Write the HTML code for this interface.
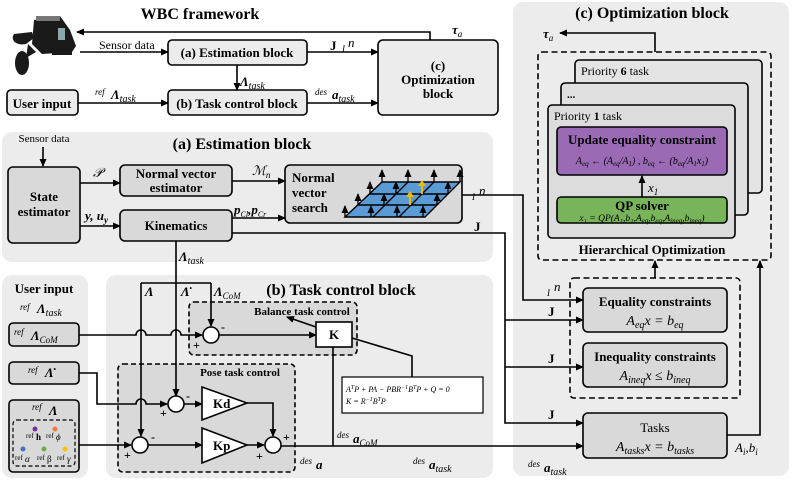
<!DOCTYPE html>
<html><head><meta charset="utf-8"><style>
html,body{margin:0;padding:0;background:#fff}
svg{display:block}
text{font-family:"Liberation Serif",serif;fill:#000}
.b{font-weight:bold}
.i{font-style:italic}
</style></head><body>
<svg width="793" height="480" viewBox="0 0 793 480" xmlns="http://www.w3.org/2000/svg">
<defs>
<marker id="a" markerWidth="8" markerHeight="8" refX="7" refY="4" orient="auto" markerUnits="userSpaceOnUse"><path d="M0,0.5 L8,4 L0,7.5z" fill="#000"/></marker>
</defs>
<g stroke="#000" stroke-width="1.6" fill="none">
<rect x="513" y="2" width="276" height="474" rx="10" fill="#ececec" stroke="none"/>
<rect x="2" y="132" width="491" height="130" rx="10" fill="#ececec" stroke="none"/>
<rect x="2" y="275" width="86" height="203" rx="10" fill="#ececec" stroke="none"/>
<rect x="106" y="275" width="387" height="203" rx="10" fill="#ececec" stroke="none"/>

<rect x="168" y="40" width="139" height="25" rx="4" fill="#ececec"/>
<rect x="168" y="90" width="139" height="25" rx="4" fill="#ececec"/>
<rect x="7" y="90" width="71" height="25" rx="4" fill="#ececec"/>
<rect x="378" y="40" width="120" height="75" rx="5" fill="#ececec"/>
<path d="M430,40 V32 H77" marker-end="url(#a)"/>
<path d="M80,52 H168" marker-end="url(#a)"/>
<path d="M307,52 H378" marker-end="url(#a)"/>
<path d="M237,65 V90" marker-end="url(#a)"/>
<path d="M78,103 H168" marker-end="url(#a)"/>
<path d="M307,103 H378" marker-end="url(#a)"/>

<path d="M43,147 V166" marker-end="url(#a)"/>
<rect x="8" y="167" width="72" height="76" rx="5" fill="#d9d9d9"/>
<rect x="120" y="165" width="112" height="31" rx="5" fill="#d9d9d9"/>
<rect x="120" y="210" width="112" height="31" rx="5" fill="#d9d9d9"/>
<rect x="285" y="165" width="177" height="58" rx="5" fill="#d9d9d9"/>
<path d="M80,183 H120" marker-end="url(#a)"/>
<path d="M80,226 H120" marker-end="url(#a)"/>
<path d="M232,181 H285" marker-end="url(#a)"/>
<path d="M232,218 H285" marker-end="url(#a)"/>
<path d="M462,195 H523 V300 H583" marker-end="url(#a)"/>
<path d="M232,233 H505 V423 H583" marker-end="url(#a)"/>
<path d="M505,320 H583" marker-end="url(#a)"/>
<path d="M505,367 H583" marker-end="url(#a)"/>

<path d="M382,182 H460 L425,217 H345 Z" fill="#5b9bd5" stroke-width="1.4"/>
<path d="M370,194 H448 M358,205 H437 M408,182 L373,217 M434,182 L399,217" stroke-width="1.4"/>
</g>
<g stroke="#000" stroke-width="1.3" marker-end="url(#a)" fill="none">
<path d="M382,182 V170"/><path d="M408,182 V170"/><path d="M434,182 V170"/><path d="M460,182 V170"/>
<path d="M370,194 V182"/><path d="M396,194 V182"/><path d="M448,194 V182"/>
<path d="M358,205 V194"/><path d="M384,205 V194"/><path d="M437,205 V194"/>
<path d="M345,217 V206"/><path d="M371,217 V206"/><path d="M397,217 V206"/><path d="M423,217 V206"/>
</g>
<g stroke="#f5b800" stroke-width="2" fill="none">
<path d="M422,194 V184"/><path d="M410,205 V195"/>
</g>
<path d="M418,186 L422,180 L426,186z M406,197 L410,191 L414,197z" fill="#f5b800"/>

<g stroke="#000" stroke-width="1.6" fill="none">
<rect x="9" y="323" width="70" height="23" rx="4" fill="#d9d9d9"/>
<rect x="9" y="362" width="70" height="22" rx="4" fill="#d9d9d9"/>
<rect x="9" y="400" width="70" height="72" rx="4" fill="#d9d9d9"/>
<rect x="13" y="420" width="62" height="46" rx="4" stroke-dasharray="4,2.5" stroke-width="1.2"/>

<rect x="189" y="302" width="168" height="53" rx="5" fill="#d9d9d9" stroke-dasharray="5,3"/>
<rect x="118" y="364" width="177" height="108" rx="5" fill="#d9d9d9" stroke-dasharray="5,3"/>
<rect x="316" y="322" width="36" height="25" fill="#fff"/>
<rect x="342" y="377" width="141" height="36" fill="#fff" stroke-width="1.2"/>
<path d="M176,241 V283"/>
<path d="M141,283 H211"/>
<path d="M141,283 V436" marker-end="url(#a)"/>
<path d="M176,283 V396" marker-end="url(#a)"/>
<path d="M211,283 V326" marker-end="url(#a)"/>
<path d="M79,335 H136 a5,5 0 0 1 10,0 H171 a5,5 0 0 1 10,0 H202" marker-end="url(#a)"/>
<path d="M219,335 H316" marker-end="url(#a)"/>
<path d="M316,327 L287,317" marker-end="url(#a)"/>
<path d="M352,338 L412,356 V377"/>
<path d="M333,347 V446"/>
<path d="M79,373 H97 V404 H136 a5,5 0 0 1 10,0 H167" marker-end="url(#a)"/>
<path d="M184,404 H202" marker-end="url(#a)"/>
<path d="M79,445 H131" marker-end="url(#a)"/>
<path d="M148,445 H202" marker-end="url(#a)"/>
<path d="M247,445 H264" marker-end="url(#a)"/>
<path d="M247,403 H273 V436" marker-end="url(#a)"/>
<path d="M281,446 H583" marker-end="url(#a)"/>
<circle cx="211" cy="335" r="8" fill="#fff"/>
<circle cx="176" cy="404" r="8" fill="#fff"/>
<circle cx="140" cy="445" r="8" fill="#fff"/>
<circle cx="273" cy="445" r="8" fill="#fff"/>
<path d="M202,387 L247,403 L202,420 Z" fill="#fff"/>
<path d="M202,428 L247,445 L202,463 Z" fill="#fff"/>

<rect x="538" y="52" width="233" height="208" rx="4" stroke-dasharray="6,3.5"/>
<path d="M655,52 V33 H560" marker-end="url(#a)"/>
<rect x="575" y="60" width="187" height="133" rx="4" fill="#e4e4e4"/>
<rect x="561" y="83" width="187" height="132" rx="4" fill="#e0e0e0"/>
<rect x="548" y="105" width="187" height="133" rx="4" fill="#dcdcdc"/>
<rect x="557" y="127" width="170" height="48" rx="4" fill="#9a6ab4"/>
<rect x="557" y="197" width="170" height="26" rx="4" fill="#78b45a"/>
<path d="M642,197 V176" marker-end="url(#a)"/>
<path d="M655,278 V261" marker-end="url(#a)"/>
<rect x="570" y="278" width="170" height="120" rx="4" stroke-dasharray="6,3.5"/>
<rect x="583" y="288" width="144" height="44" rx="5" fill="#d9d9d9"/>
<rect x="583" y="343" width="144" height="44" rx="5" fill="#d9d9d9"/>
<rect x="583" y="413" width="144" height="45" rx="5" fill="#d9d9d9"/>
<path d="M727,435 H760 V261" marker-end="url(#a)"/>
</g>

<!-- robot -->
<g fill="#1a1a1a">
<path d="M34,20 L60,16 L70,30 L76,46 L72,52 L42,54 L32,44 Z"/>
<rect x="36" y="16" width="24" height="5" fill="#777"/>
<path d="M14,34 C10,40 16,46 26,44 L34,38 L32,32 Z"/>
<path d="M28,44 L36,52 L26,58 Z"/>
<ellipse cx="22" cy="63" rx="7" ry="12"/>
<rect x="52" y="50" width="20" height="5"/>
<rect x="58" y="28" width="7" height="12" fill="#8aa"/>
</g>

<g font-size="13">
<text x="200" y="19" class="b" font-size="16" text-anchor="middle">WBC framework</text>
<text x="99" y="49" font-size="12">Sensor data</text>
<text x="237" y="57" class="b" text-anchor="middle">(a) Estimation block</text>
<text x="237" y="108" class="b" text-anchor="middle">(b) Task control block</text>
<text x="42" y="108" class="b" text-anchor="middle">User input</text>
<text x="438" y="70" class="b" text-anchor="middle">(c)</text>
<text x="438" y="84" class="b" text-anchor="middle">Optimization</text>
<text x="438" y="98" class="b" text-anchor="middle">block</text>
<text x="330" y="50" class="b">J</text><text x="342" y="52" class="i" font-size="9">I</text><text x="348" y="47" class="i">n</text>
<text x="452" y="34" class="b i">τ<tspan font-size="9" dy="3" font-weight="normal">a</tspan></text>
<text x="240" y="86" class="b i">Λ<tspan font-size="10" font-weight="normal" dy="3">task</tspan></text>
<text x="95" y="95" class="i" font-size="9">ref</text><text x="111" y="99" class="b i">Λ<tspan font-size="10" font-weight="normal" dy="3">task</tspan></text>
<text x="315" y="95" class="i" font-size="9">des</text><text x="332" y="99" class="b i">a<tspan font-size="10" font-weight="normal" dy="3">task</tspan></text>

<text x="242" y="149" class="b" font-size="16" text-anchor="middle">(a) Estimation block</text>
<text x="44" y="142" font-size="11" text-anchor="middle">Sensor data</text>
<text x="44" y="201" class="b" text-anchor="middle">State</text>
<text x="44" y="216" class="b" text-anchor="middle">estimator</text>
<text x="176" y="178" class="b" text-anchor="middle">Normal vector</text>
<text x="176" y="192" class="b" text-anchor="middle">estimator</text>
<text x="176" y="230" class="b" text-anchor="middle">Kinematics</text>
<text x="292" y="182" class="b">Normal</text>
<text x="292" y="197" class="b">vector</text>
<text x="292" y="212" class="b">search</text>
<text x="93" y="177" class="i">𝒫</text>
<text x="85" y="220" class="b i">y, u<tspan font-size="9" dy="3">y</tspan></text>
<text x="252" y="175" class="i">ℳ<tspan font-size="9" dy="3">n</tspan></text>
<text x="234" y="214" class="b i">p<tspan font-size="8" dy="3" font-weight="normal">Cl</tspan><tspan dy="-3">,p</tspan><tspan font-size="8" dy="3" font-weight="normal">Cr</tspan></text>
<text x="472" y="200" class="i" font-size="9">I</text><text x="479" y="195" class="i">n</text>
<text x="474" y="231" class="b">J</text>
<text x="179" y="261" class="b i">Λ<tspan font-size="10" font-weight="normal" dy="3">task</tspan></text>

<text x="44" y="293" class="b" text-anchor="middle">User input</text>
<text x="20" y="310" class="i" font-size="9">ref</text><text x="37" y="313" class="b i">Λ<tspan font-size="10" font-weight="normal" dy="3">task</tspan></text>
<text x="14" y="335" class="i" font-size="9">ref</text><text x="31" y="340" class="b i">Λ<tspan font-size="9" font-weight="normal" dy="3">CoM</tspan></text>
<text x="28" y="373" class="i" font-size="9">ref</text><text x="45" y="377" class="b i">Λ̇</text>
<text x="32" y="410" class="i" font-size="9">ref</text><text x="49" y="415" class="b i">Λ</text>
<text x="26" y="438" font-size="7">ref</text><text x="36" y="440" font-size="9" class="b">h</text>
<text x="46" y="438" font-size="7">ref</text><text x="56" y="440" font-size="9" class="i">ϕ</text>
<text x="15" y="460" font-size="7">ref</text><text x="25" y="462" font-size="9" class="i">α</text>
<text x="37" y="460" font-size="7">ref</text><text x="47" y="462" font-size="9">β</text>
<text x="57" y="460" font-size="7">ref</text><text x="67" y="462" font-size="9" class="i">γ</text>
</g>
<circle cx="35" cy="429" r="2.5" fill="#7030a0"/>
<circle cx="55" cy="429" r="2.5" fill="#ed7d31"/>
<circle cx="23" cy="449" r="2.5" fill="#4472c4"/>
<circle cx="44" cy="449" r="2.5" fill="#70ad47"/>
<circle cx="65" cy="449" r="2.5" fill="#ffc000"/>

<g font-size="13">
<text x="341" y="295" class="b" font-size="16" text-anchor="middle">(b) Task control block</text>
<text x="145" y="296" class="b i">Λ</text>
<text x="181" y="296" class="b i">Λ̇</text>
<text x="214" y="296" class="b i">Λ<tspan font-size="9" font-weight="normal" dy="3">CoM</tspan></text>
<text x="302" y="315" class="b" font-size="11" text-anchor="middle">Balance task control</text>
<text x="334" y="339" class="b" text-anchor="middle">K</text>
<text x="240" y="376" class="b" font-size="11" text-anchor="middle">Pose task control</text>
<text x="213" y="408" class="b">Kd</text>
<text x="213" y="450" class="b">Kp</text>
<text x="346" y="392" class="i" font-size="8">A<tspan font-size="6" dy="-3">T</tspan><tspan dy="3">P + PA − PBR</tspan><tspan font-size="6" dy="-3">−1</tspan><tspan dy="3">B</tspan><tspan font-size="6" dy="-3">T</tspan><tspan dy="3">P + Q = 0</tspan></text>
<text x="346" y="404" class="i" font-size="8">K = R<tspan font-size="6" dy="-3">−1</tspan><tspan dy="3">B</tspan><tspan font-size="6" dy="-3">T</tspan><tspan dy="3">P</tspan></text>
<g font-size="12" class="b">
<text x="193" y="349">+</text><text x="221" y="331">-</text>
<text x="160" y="417">+</text><text x="186" y="400">-</text>
<text x="124" y="459">+</text><text x="151" y="441">-</text>
<text x="256" y="460">+</text><text x="283" y="441">+</text>
</g>
<text x="337" y="438" class="i" font-size="9">des</text><text x="353" y="443" class="b i">a<tspan font-size="9" font-weight="normal" dy="3">CoM</tspan></text>
<text x="300" y="464" class="i" font-size="9">des</text><text x="316" y="469" class="b i">a</text>
<text x="413" y="464" class="i" font-size="9">des</text><text x="429" y="469" class="b i">a<tspan font-size="10" font-weight="normal" dy="3">task</tspan></text>

<text x="652" y="18" class="b" font-size="16" text-anchor="middle">(c) Optimization block</text>
<text x="543" y="38" class="b i">τ<tspan font-size="9" dy="3" font-weight="normal">a</tspan></text>
<text x="581" y="75" font-size="12">Priority <tspan class="b">6</tspan> task</text>
<text x="567" y="98" class="b" font-size="11">...</text>
<text x="554" y="120" font-size="12">Priority <tspan class="b">1</tspan> task</text>
<text x="642" y="144" class="b" text-anchor="middle">Update equality constraint</text>
<text x="642" y="164" class="i" font-size="10" text-anchor="middle">A<tspan font-size="7" dy="2">eq</tspan><tspan dy="-2"> ← (A</tspan><tspan font-size="7" dy="2">eq</tspan><tspan dy="-2">/A</tspan><tspan font-size="7" dy="2">1</tspan><tspan dy="-2">) , b</tspan><tspan font-size="7" dy="2">eq</tspan><tspan dy="-2"> ← (b</tspan><tspan font-size="7" dy="2">eq</tspan><tspan dy="-2">/A</tspan><tspan font-size="7" dy="2">1</tspan><tspan dy="-2">x</tspan><tspan font-size="7" dy="2">1</tspan><tspan dy="-2">)</tspan></text>
<text x="648" y="192" class="i">x<tspan font-size="9" dy="3">1</tspan></text>
<text x="642" y="210" class="b" text-anchor="middle">QP solver</text>
<text x="642" y="221" class="i" font-size="9.5" text-anchor="middle">x₁ = QP(A₁,b₁,A<tspan font-size="7" dy="2">eq</tspan><tspan dy="-2">,b</tspan><tspan font-size="7" dy="2">eq</tspan><tspan dy="-2">,A</tspan><tspan font-size="7" dy="2">ineq</tspan><tspan dy="-2">,b</tspan><tspan font-size="7" dy="2">ineq</tspan><tspan dy="-2">)</tspan></text>
<text x="652" y="254" class="b" text-anchor="middle">Hierarchical Optimization</text>
<text x="547" y="296" class="i" font-size="9">I</text><text x="554" y="291" class="i">n</text>
<text x="548" y="316" class="b">J</text>
<text x="548" y="363" class="b">J</text>
<text x="548" y="419" class="b">J</text>
<text x="655" y="306" class="b" text-anchor="middle">Equality constraints</text>
<text x="655" y="325" class="i" font-size="14" text-anchor="middle">A<tspan font-size="10" dy="3">eq</tspan><tspan dy="-3">x = b</tspan><tspan font-size="10" dy="3">eq</tspan></text>
<text x="655" y="361" class="b" text-anchor="middle">Inequality constraints</text>
<text x="655" y="380" class="i" font-size="14" text-anchor="middle">A<tspan font-size="10" dy="3">ineq</tspan><tspan dy="-3">x ≤ b</tspan><tspan font-size="10" dy="3">ineq</tspan></text>
<text x="655" y="432" text-anchor="middle">Tasks</text>
<text x="655" y="451" class="i" font-size="14" text-anchor="middle">A<tspan font-size="10" dy="3">tasks</tspan><tspan dy="-3">x = b</tspan><tspan font-size="10" dy="3">tasks</tspan></text>
<text x="735" y="452" class="i">A<tspan font-size="9" dy="3">i</tspan><tspan dy="-3">,b</tspan><tspan font-size="9" dy="3">i</tspan></text>
<text x="528" y="467" class="i" font-size="9">des</text><text x="544" y="472" class="b i">a<tspan font-size="10" font-weight="normal" dy="3">task</tspan></text>
</g>
</svg>
</body></html>
